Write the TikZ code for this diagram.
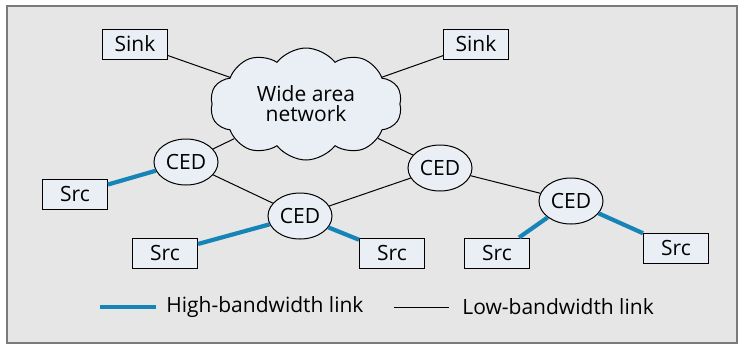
\documentclass[tikz,border=0pt]{standalone}
\usepackage{fontspec}
\setmainfont{Open Sans}
\usetikzlibrary{shapes.geometric,shapes.symbols}
\definecolor{framebg}{HTML}{E6E6E6}
\definecolor{framecol}{HTML}{7A7A7A}
\definecolor{nodebg}{HTML}{EAEFF6}
\definecolor{hiblue}{HTML}{1784B8}
\begin{document}
\begin{tikzpicture}[x=0.5pt,y=-0.5pt,
  every node/.style={font=\fontsize{10.5}{12}\selectfont, inner sep=0pt},
  box/.style={draw, fill=nodebg, line width=0.5pt, minimum width=32.5pt, minimum height=15pt},
  ced/.style={draw, fill=nodebg, ellipse, line width=0.5pt, minimum width=32pt, minimum height=23pt},
  wan/.style={draw, fill=nodebg, cloud, cloud puffs=10, cloud puff arc=105, aspect=1.8, line width=0.5pt, minimum width=96pt, minimum height=56pt, align=center},
  lo/.style={line width=0.5pt, black},
  hi/.style={line width=2.1pt, hiblue}]
\useasboundingbox (0,0) rectangle (746,345);
\draw[fill=framebg, draw=framecol, line width=0.7pt] (7,6) rectangle (737,343);
% nodes
\node[box] (sinkL) at (135,44) {Sink};
\node[box] (sinkR) at (476,44) {Sink};
\node[wan] (wan) at (306,104) {Wide area\\[-2pt]network};
\node[ced] (cedA) at (186,162) {CED};
\node[ced] (cedB) at (300,216) {CED};
\node[ced] (cedC) at (440,168) {CED};
\node[ced] (cedD) at (571,201) {CED};
\node[box] (srcA) at (75,194) {Src};
\node[box] (srcB) at (165,253) {Src};
\node[box] (srcC) at (392,253) {Src};
\node[box] (srcD) at (497,253) {Src};
\node[box] (srcE) at (676,248) {Src};
% low links
\draw[lo] (sinkL) -- (wan);
\draw[lo] (sinkR) -- (wan);
\draw[lo] (wan) -- (cedA);
\draw[lo] (wan) -- (cedC);
\draw[lo] (cedA) -- (cedB);
\draw[lo] (cedB) -- (cedC);
\draw[lo] (cedC) -- (cedD);
% high links
\draw[hi] (cedA) -- (srcA);
\draw[hi] (cedB) -- (srcB);
\draw[hi] (cedB) -- (srcC);
\draw[hi] (cedD) -- (srcD);
\draw[hi] (cedD) -- (srcE);
% legend
\coordinate (hl1) at (100,307);
\coordinate (hl2) at (156,307);
\draw[hi] (hl1) -- (hl2);
\node[anchor=west] (hitxt) at (166,307) {High-bandwidth link};
\coordinate (ll1) at (394,307);
\coordinate (ll2) at (449,307);
\draw[lo] (ll1) -- (ll2);
\node[anchor=west] (lotxt) at (462,307) {Low-bandwidth link};
\end{tikzpicture}
\end{document}
